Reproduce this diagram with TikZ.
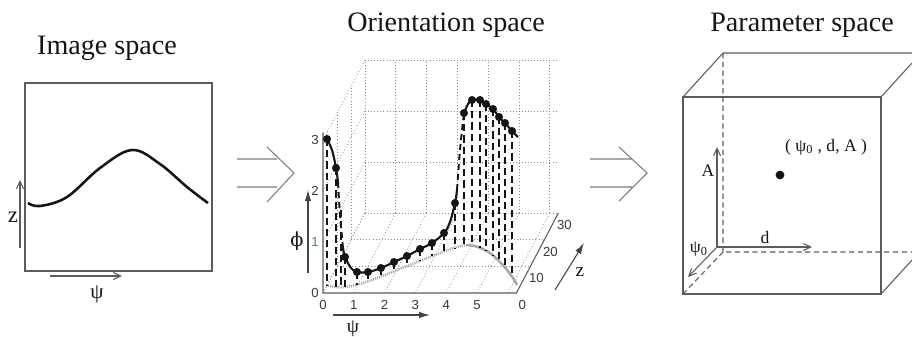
\documentclass[tikz,border=0pt]{standalone}
\usepackage{fontspec}
\setmainfont{Liberation Serif}
\newfontfamily\tickfont{Liberation Sans}
\newfontfamily\greekfont{DejaVu Serif}
\usetikzlibrary{arrows.meta}
\definecolor{Ink}{HTML}{151515}
\definecolor{Frame}{HTML}{5C5C5C}
\definecolor{Grid}{HTML}{8C8C8C}
\definecolor{Trace}{HTML}{A6A6A6}
\definecolor{TickBlue}{HTML}{4A7C8E}
\tikzset{
  title/.style={font=\fontsize{16}{18}\selectfont,text=Ink,inner sep=0pt},
  axlabel/.style={font=\fontsize{12}{14}\selectfont,text=Ink,inner sep=0pt},
  smalllabel/.style={font=\fontsize{10}{12}\selectfont,text=Ink,inner sep=0pt},
  ticklabel/.style={font=\tickfont\fontsize{7.5}{9}\selectfont,text=Ink!85,inner sep=0pt},
  frame/.style={draw=Frame,line width=.6pt},
  gridline/.style={draw=Grid,line width=.45pt,dash pattern=on .45pt off 1.3pt},
  hidden/.style={draw=Frame,line width=.6pt,dash pattern=on 3pt off 2pt},
  axisarrow/.style={draw=Frame,line width=.6pt,-{Straight Barb[length=1.5mm,width=1.4mm]}},
  solidarrow/.style={draw=Ink!80,line width=.6pt,-{Latex[length=2.2mm,width=1.3mm]}},
  implies/.style={draw=Frame!80,line width=.6pt},
  response/.style={draw=Ink,line width=1.2pt},
  jump/.style={draw=Ink,line width=1.1pt,dash pattern=on 3.5pt off 2.2pt},
  stem/.style={draw=Ink,line width=1.1pt,dash pattern=on 4pt off 2.4pt},
  shadow/.style={draw=Trace,line width=1.4pt},
  shadowdots/.style={draw=Trace,line width=1.4pt,dash pattern=on .6pt off .6pt},
  sample/.style={circle,fill=Ink,inner sep=0pt,minimum size=4.6pt}
}
\begin{document}
\begin{tikzpicture}[x=0.02cm,y=-0.02cm]
\useasboundingbox (0,0) rectangle (912,336);

% image space
\node[title] (imgtitle) at (107,48) {Image space};
\draw[frame] (25,83) rectangle (212,271);
\draw[response,line width=1.45pt] plot[smooth,tension=.6] coordinates {(28,203) (40,206) (67,197) (100,168) (132,150) (160,164) (187,187) (208,203)};
\coordinate (imgz0) at (20,248);
\coordinate (imgz1) at (20,180);
\draw[axisarrow] (imgz0) -- (imgz1);
\node[axlabel,font=\fontsize{13}{15}\selectfont] (imgzlab) at (13,217) {z};
\coordinate (imgpsi0) at (50,276);
\coordinate (imgpsi1) at (122,276);
\draw[axisarrow] (imgpsi0) -- (imgpsi1);
\node[axlabel] (imgpsilab) at (97,294) {ψ};

\draw[implies] (237,159) -- (277,159) (237,187) -- (277,187) (267,147) -- (294,173) -- (267,202);
\draw[implies] (590,159) -- (632,159) (590,187) -- (632,187) (619,147) -- (647,173) -- (619,201);

% orientation space
\node[title] (orititle) at (446,25) {Orientation space};
\begin{scope}[shift={(323,293)},x={(0.616cm,0cm)},y={(0cm,1.02cm)},z={(0.28cm,0.5333cm)}]
  \foreach \k in {0,...,6} {
    \draw[gridline] (\k,0,3) -- (\k,3,3);
    \draw[gridline] (\k,0,0) -- (\k,0,3);
  }
  \foreach \k in {0,...,3} {
    \draw[gridline] (0,\k,3) -- (6.28,\k,3);
    \draw[gridline] (0,\k,0) -- (0,\k,3);
  }
  \foreach \k in {1,2} {
    \draw[gridline] (0,0,\k) -- (0,3,\k);
    \draw[gridline] (0,0,\k) -- (6.28,0,\k);
  }
  \draw[frame] (0,3.15,0) -- (0,0,0) -- (6.28,0,0) -- (6.28,0,3);
  \foreach \k in {0,...,5}
    \node[ticklabel,yshift=-.24cm] (psitick\k) at (\k,0,0) {\k};
  \foreach \k in {0,2,3}
    \node[ticklabel,xshift=-.16cm] (phitick\k) at (0,\k,0) {\k};
  \node[ticklabel,xshift=-.16cm,text=TickBlue] (phitick1) at (0,1,0) {1};
  \foreach \k/\t in {0/0,1/10,2/20,3/30}
    \node[ticklabel,xshift=.12cm,yshift=-.24cm] (ztick\k) at (6.28,0,\k) {\t};
\end{scope}

% projected curve on the floor
\draw[shadowdots] plot[smooth,tension=.6] coordinates {(326,285) (335,287) (345,287) (360,284) (380,277) (397,270) (410,265) (430,257) (453,248) (467,245)};
\draw[shadow] plot[smooth,tension=.6] coordinates {(467,245) (478,247) (490,253) (500,262) (507,270) (513,278) (517,285)};

% orientation response
\draw[stem] (341,210) -- (341,287);
\foreach \px/\py/\fy [count=\i] in {327/139/286, 336/168/287, 345/257/287, 357/272/285, 368/272/281, 381/268/277, 394/262/271, 407/256/266, 420/249/261, 432/243/256, 444/233/252, 455/203/248, 464/113/246, 472/100/246, 480/100/248, 486/104/251, 493/109/256, 499/117/261, 505/123/268, 512/131/277} {
  \draw[stem] (\px,\py) -- (\px,\fy);
  \node[sample] (s\i) at (\px,\py) {};
}
\draw[response] plot[smooth,tension=.6] coordinates {(327,139) (332,150) (336,168) (338,182)};
\draw[jump] plot[smooth,tension=.6] coordinates {(338,182) (340,215) (343,248)};
\draw[response] plot[smooth,tension=.6] coordinates {(343,248) (345,257) (351,268) (357,272) (368,272) (381,268) (394,262) (407,256) (420,249) (432,243) (444,233) (450,222) (455,203) (457,190)};
\draw[jump] plot[smooth,tension=.6] coordinates {(457,190) (460,150) (464,113)};
\draw[response] plot[smooth,tension=.6] coordinates {(464,113) (468,104) (472,100) (480,100) (486,104) (493,109) (499,117) (505,123) (512,131) (518,137)};

\coordinate (phi0) at (308,273);
\coordinate (phi1) at (308,190);
\draw[solidarrow] (phi0) -- (phi1);
\node[axlabel,font=\greekfont\fontsize{11}{13}\selectfont] (philab) at (297,241) {ϕ};
\coordinate (opsi0) at (333,315);
\coordinate (opsi1) at (430,315);
\draw[solidarrow] (opsi0) -- (opsi1);
\node[axlabel,font=\fontsize{11}{13}\selectfont] (opsilab) at (353,329) {ψ};
\coordinate (oz0) at (555,290);
\coordinate (oz1) at (584,243);
\draw[solidarrow] (oz0) -- (oz1);
\node[axlabel,font=\fontsize{11}{13}\selectfont] (ozlab) at (580,272) {z};

% parameter space
\node[title] (partitle) at (802,25) {Parameter space};
\draw[hidden] (723,53) -- (723,252) -- (912,252) (723,252) -- (683,294);
\draw[frame] (683,97) rectangle (881,294);
\draw[frame] (683,97) -- (723,53) -- (912,53) (881,97) -- (912,63) (881,294) -- (912,260);
\coordinate (porig) at (717,247);
\coordinate (pA) at (717,147);
\coordinate (pd) at (812,247);
\coordinate (ppsi) at (688,277);
\draw[axisarrow] (porig) -- (pA);
\draw[axisarrow] (porig) -- (pd);
\draw[axisarrow] (porig) -- (ppsi);
\node[smalllabel] (Alab) at (708,171) {A};
\node[smalllabel] (dlab) at (765,237) {d};
\node[smalllabel] (psilab) at (699,249) {ψ\textsubscript{0}};
\node[sample,minimum size=5pt] (point) at (780,175) {};
\node[smalllabel] (pointlab) at (826,147) {( ψ\textsubscript{0} , d, A )};
\end{tikzpicture}
\end{document}
